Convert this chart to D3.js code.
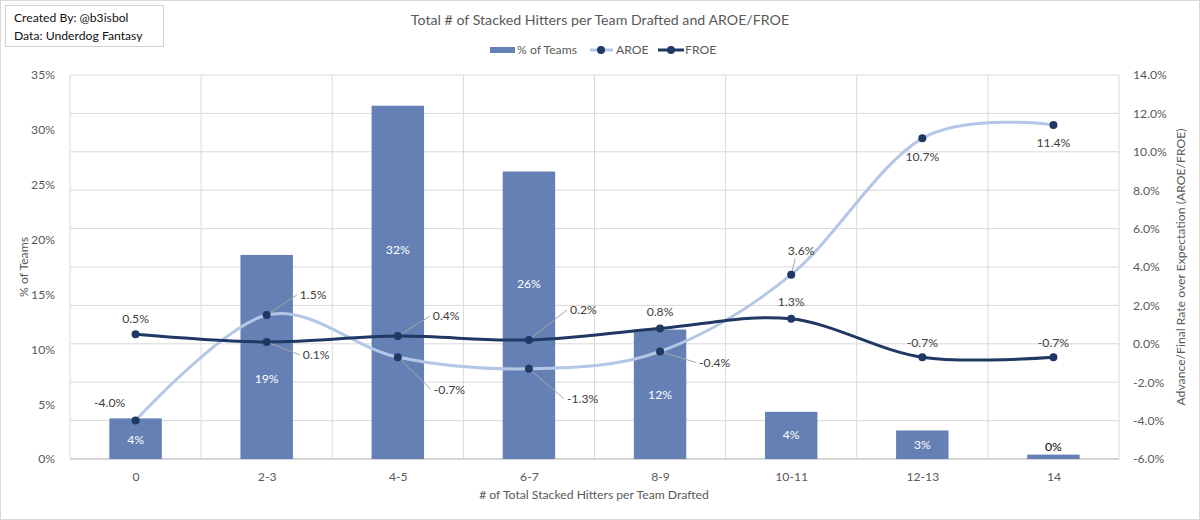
<!DOCTYPE html>
<html><head><meta charset="utf-8">
<script src="https://cdn.jsdelivr.net/npm/d3@7"></script>
<style>body{margin:0;background:#fff} text{font-family:Lato,"Open Sans",sans-serif}</style>
</head><body><svg id="c" width="1200" height="520"></svg>
<script>
// ---- data ----
const categories = ["0","2-3","4-5","6-7","8-9","10-11","12-13","14"];
const pctTeams = [3.7, 18.6, 32.2, 26.2, 11.8, 4.3, 2.6, 0.4];
const pctLabels = ["4%","19%","32%","26%","12%","4%","3%","0%"];
const aroe = [-4.0, 1.5, -0.7, -1.3, -0.4, 3.6, 10.7, 11.4];
const froe = [0.5, 0.1, 0.4, 0.2, 0.8, 1.3, -0.7, -0.7];
const leftTicks = [0, 5, 10, 15, 20, 25, 30, 35];
const rightTicks = [-6, -4, -2, 0, 2, 4, 6, 8, 10, 12, 14];

// ---- layout (label placement, pixels / value units) ----
const barLabelAt = [1.8, 7.3, 19.1, 16.0, 5.9, 2.2, 1.3, 1.1];
const aroeLbl = [[-26,-18,"middle",0],[33,-20,"start",1],[36,32,"start",1],[38,30,"start",1],[39,11,"start",1],[10,-24,"middle",1],[0,18,"middle",0],[0,18,"middle",0]];
const froeLbl = [[0,-15,"middle",0],[36,13,"start",1],[35,-20,"start",1],[41,-30,"start",1],[0,-17,"middle",0],[0,-17,"middle",0],[0,-15,"middle",0],[0,-15,"middle",0]];

const W=1200,H=520, L=70, R=1119, T=75, B=459, FS="12.2px";
const svg=d3.select("#c");
svg.append("rect").attr("x",0.5).attr("y",0.5).attr("width",W-1).attr("height",H-1).attr("fill","#fff").attr("stroke","#d9d9d9");

const x=d3.scaleBand().domain(categories).range([L,R]).paddingInner(0.6).paddingOuter(0.3);
const xs=d3.scalePoint().domain(categories).range([L,R]).padding(0.5);
const yL=d3.scaleLinear().domain([0,35]).range([B,T]);
const yR=d3.scaleLinear().domain([-6,14]).range([B,T]);
const step=(R-L)/categories.length;

// gridlines
const g=svg.append("g");
g.selectAll("line.h").data(rightTicks).join("line").attr("x1",L).attr("x2",R)
 .attr("y1",d=>yR(d)).attr("y2",d=>yR(d)).attr("stroke","#d9d9d9").attr("stroke-width",1);
g.selectAll("line.v").data(d3.range(categories.length+1)).join("line")
 .attr("x1",i=>L+i*step).attr("x2",i=>L+i*step).attr("y1",T).attr("y2",B).attr("stroke","#d9d9d9");
svg.append("line").attr("x1",L).attr("x2",R).attr("y1",B).attr("y2",B).attr("stroke","#bfbfbf");

// axes
const axL=svg.append("g").attr("transform",`translate(${L-12},0)`)
 .call(d3.axisLeft(yL).tickValues(leftTicks).tickFormat(d=>d+"%").tickSize(0));
const axR=svg.append("g").attr("transform",`translate(${R+11},0)`)
 .call(d3.axisRight(yR).tickValues(rightTicks).tickFormat(d=>d.toFixed(1)+"%").tickSize(0));
const axX=svg.append("g").attr("transform",`translate(0,477)`)
 .call(d3.axisBottom(xs).tickSize(0));
[axL,axR,axX].forEach(a=>{a.select(".domain").remove();a.selectAll("text").attr("fill","#595959").style("font-size",FS).style("font-family","Lato,'Open Sans',sans-serif");});
axX.selectAll("text").attr("y",0).attr("dy","0.35em");

// bars
svg.selectAll("rect.bar").data(pctTeams).join("rect").attr("class","bar")
 .attr("x",(d,i)=>x(categories[i])).attr("width",x.bandwidth())
 .attr("y",d=>yL(d)).attr("height",d=>B-yL(d)).attr("fill","#6480b4");
svg.selectAll("text.bl").data(pctLabels).join("text")
 .attr("x",(d,i)=>xs(categories[i])).attr("y",(d,i)=>yL(barLabelAt[i])).attr("dy","0.35em")
 .attr("text-anchor","middle").attr("fill",(d,i)=>i===7?"#000":"#fff").style("font-size",FS).text(d=>d);

// lines
const curve=d3.curveCardinal.tension(0);
function series(vals,color,lbl){
  const line=d3.line().x((d,i)=>xs(categories[i])).y(d=>yR(d)).curve(curve);
  svg.append("path").datum(vals).attr("d",line).attr("fill","none").attr("stroke",color).attr("stroke-width",3);
  return ()=>{
    vals.forEach((v,i)=>{
      const px=xs(categories[i]), py=yR(v), o=lbl[i];
      if(o[3]){
        const ex = o[2]==="start" ? px+o[0]-3 : px+o[0]*0.4;
        const ey = o[2]==="start" ? py+o[1] : py+o[1]+8;
        svg.append("line").attr("x1",px).attr("y1",py).attr("x2",ex).attr("y2",ey).attr("stroke","#a6a6a6").attr("stroke-width",1);
      }
    });
  };
}
const leadA=series(aroe,"#b4c7e7",aroeLbl);
const leadF=series(froe,"#1f3864",froeLbl);
leadA();leadF();
[[aroe,aroeLbl],[froe,froeLbl]].forEach(([vals,lbl])=>{
  svg.append("g").selectAll("circle").data(vals).join("circle")
   .attr("cx",(d,i)=>xs(categories[i])).attr("cy",d=>yR(d)).attr("r",4).attr("fill","#1f3864");
  svg.append("g").selectAll("text").data(vals).join("text")
   .attr("x",(d,i)=>xs(categories[i])+lbl[i][0]).attr("y",(d,i)=>yR(d)+lbl[i][1]).attr("dy","0.35em")
   .attr("text-anchor",(d,i)=>lbl[i][2]).attr("fill","#404040").style("font-size",FS)
   .text(d=>d.toFixed(1)+"%");
});

// titles
svg.append("text").attr("x",600).attr("y",20).attr("dy","0.35em").attr("text-anchor","middle")
 .attr("fill","#595959").style("font-size","14.2px").text("Total # of Stacked Hitters per Team Drafted and AROE/FROE");
svg.append("text").attr("x",594).attr("y",495).attr("dy","0.35em").attr("text-anchor","middle")
 .attr("fill","#595959").style("font-size",FS).text("# of Total Stacked Hitters per Team Drafted");
svg.append("text").attr("transform","translate(24,267) rotate(-90)").attr("dy","0.35em").attr("text-anchor","middle")
 .attr("fill","#595959").style("font-size",FS).text("% of Teams");
svg.append("text").attr("transform","translate(1181,267) rotate(-90)").attr("dy","0.35em").attr("text-anchor","middle")
 .attr("fill","#595959").style("font-size",FS).text("Advance/Final Rate over Expectation (AROE/FROE)");

// legend
const lg=svg.append("g").style("font-size",FS);
lg.append("rect").attr("x",490).attr("y",47).attr("width",25).attr("height",6).attr("fill","#6480b4");
lg.append("text").attr("x",517).attr("y",50).attr("dy","0.35em").attr("fill","#595959").text("% of Teams");
lg.append("line").attr("x1",590).attr("x2",613).attr("y1",50).attr("y2",50).attr("stroke","#b4c7e7").attr("stroke-width",3);
lg.append("circle").attr("cx",601).attr("cy",50).attr("r",4).attr("fill","#1f3864");
lg.append("text").attr("x",616).attr("y",50).attr("dy","0.35em").attr("fill","#595959").text("AROE");
lg.append("line").attr("x1",658).attr("x2",684).attr("y1",50).attr("y2",50).attr("stroke","#1f3864").attr("stroke-width",3);
lg.append("circle").attr("cx",671).attr("cy",50).attr("r",4).attr("fill","#1f3864");
lg.append("text").attr("x",685).attr("y",50).attr("dy","0.35em").attr("fill","#595959").text("FROE");

// credit box
svg.append("rect").attr("x",5.5).attr("y",5.5).attr("width",158).attr("height",41).attr("fill","#fff").attr("stroke","#d0d0d0");
svg.append("text").attr("x",14).attr("y",18).attr("dy","0.35em").attr("fill","#111").style("font-size",FS).text("Created By: @b3isbol");
svg.append("text").attr("x",14).attr("y",36).attr("dy","0.35em").attr("fill","#111").style("font-size",FS).text("Data: Underdog Fantasy");
</script></body></html>
